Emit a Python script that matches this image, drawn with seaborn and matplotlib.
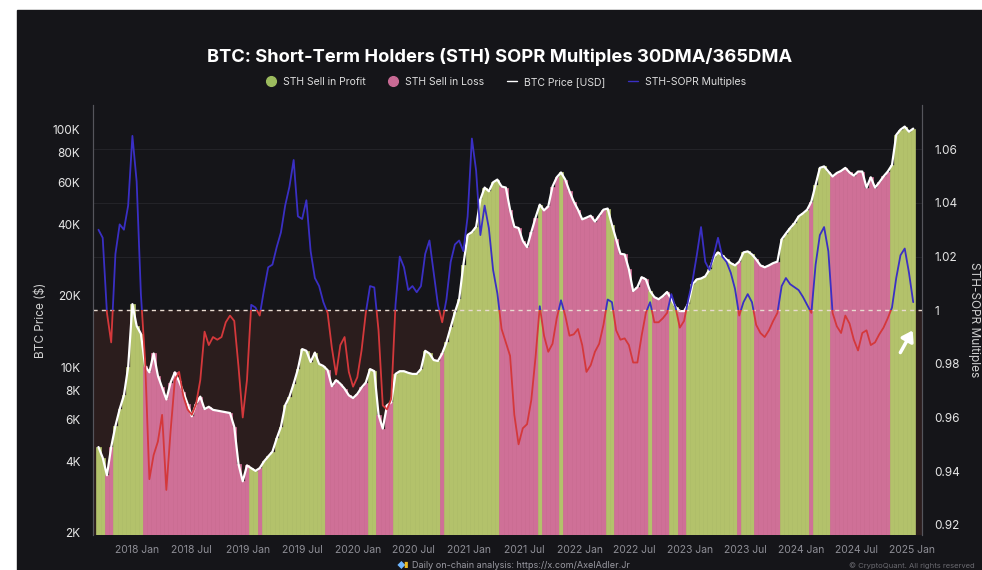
import numpy as np
import pandas as pd
import matplotlib
matplotlib.use("Agg")
import matplotlib.pyplot as plt
import matplotlib.transforms as mtransforms
from matplotlib.patches import Rectangle
from matplotlib.lines import Line2D
import seaborn as sns

# ---------------- data (bi-weekly) ----------------
start_date = "2017-08-27"
step = "14D"

btc_price = [
    4600, 4150, 3500, 4600, 5650, 6650, 7600, 10000, 18400, 14900,
    13800, 10100, 9500, 11400, 9200, 8200, 7300, 8600, 9500, 8700,
    7850, 7000, 6200, 7000, 7500, 6650, 6800, 6600, 6550, 6500,
    6450, 6400, 5600, 3900, 3300, 3850, 3750, 3650, 3750, 4000,
    4200, 4400, 5000, 5600, 6900, 7500, 8500, 9800, 11900, 11700,
    10500, 11500, 10300, 10100, 9700, 8300, 8800, 8500, 8100, 7600,
    7400, 7700, 8200, 8600, 9800, 9600, 6300, 5500, 6900, 7100,
    9350, 9600, 9600, 9450, 9350, 9350, 9800, 11700, 11400, 10700,
    10600, 11400, 12700, 14700, 17000, 19300, 27000, 36000, 37000, 39000,
    50800, 57000, 55000, 60000, 61600, 57600, 57000, 46000, 39000, 38500,
    34000, 32000, 37000, 42600, 48300, 45700, 47500, 57600, 63000, 66000,
    61600, 55000, 49800, 46000, 41900, 42600, 43400, 41000, 43400, 46000,
    46500, 39800, 34500, 30000, 29800, 25800, 20900, 21700, 23900, 23400,
    20900, 19700, 19300, 19900, 20700, 19300, 17900, 17200, 17200, 18500,
    22300, 23400, 23600, 24100, 25800, 29000, 30400, 29500, 28400, 27400,
    26800, 27800, 30400, 30700, 29800, 28400, 26800, 26300, 26800, 27400,
    27800, 34500, 36500, 38500, 40300, 43100, 44400, 46000, 49800, 58600,
    69000, 70000, 66600, 63500, 65700, 67000, 69000, 66000, 64000, 66600,
    66600, 57000, 63000, 57000, 60000, 63500, 66600, 71000, 95000, 100000,
    103000, 98000, 101000,
]

sopr_multiple = [
    1.030, 1.027, 0.999, 0.988, 1.021, 1.032, 1.030, 1.039, 1.065, 1.048,
    1.006, 0.981, 0.937, 0.946, 0.951, 0.961, 0.933, 0.955, 0.974, 0.977,
    0.968, 0.963, 0.961, 0.965, 0.974, 0.992, 0.987, 0.990, 0.989, 0.990,
    0.9955, 0.998, 0.996, 0.979, 0.960, 0.974, 1.002, 1.001, 0.998, 1.0075,
    1.016, 1.017, 1.0235, 1.029, 1.039, 1.046, 1.056, 1.035, 1.034, 1.041,
    1.022, 1.012, 1.009, 1.003, 0.999, 0.986, 0.976, 0.987, 0.990, 0.977,
    0.9715, 0.975, 0.985, 0.999, 1.009, 1.0085, 0.9925, 0.9645, 0.963, 0.967,
    1.002, 1.020, 1.016, 1.0075, 1.009, 1.0067, 1.009, 1.021, 1.026, 1.014,
    1.002, 0.9955, 1.004, 1.018, 1.0245, 1.026, 1.022, 1.035, 1.064, 1.052,
    1.028, 1.039, 1.0306, 1.015, 1.0063, 0.993, 0.988, 0.983, 0.961, 0.950,
    0.956, 0.9575, 0.9665, 0.9825, 1.0015, 0.9905, 0.9845, 0.9875, 0.997, 1.0037,
    0.998, 0.9905, 0.991, 0.993, 0.987, 0.977, 0.9795, 0.9845, 0.9875, 0.9945,
    1.004, 1.003, 0.9925, 0.989, 0.9895, 0.987, 0.9805, 0.9805, 0.9905, 0.999,
    1.003, 0.9955, 0.9955, 0.997, 0.999, 1.006, 1.001, 0.9935, 0.996, 1.004,
    1.011, 1.0205, 1.031, 1.018, 1.015, 1.0205, 1.027, 1.020, 1.018, 1.014,
    1.008, 0.998, 1.003, 1.006, 1.003, 0.9945, 0.9915, 0.990, 0.9925, 0.996,
    0.999, 1.009, 1.012, 1.0097, 1.0086, 1.0075, 1.005, 1.002, 0.999, 1.017,
    1.028, 1.031, 1.022, 0.999, 0.994, 0.9915, 0.998, 0.995, 0.989, 0.985,
    0.9915, 0.9925, 0.987, 0.988, 0.991, 0.9935, 0.997, 1.001, 1.012, 1.0205,
    1.023, 1.014, 1.003,
]

x_tick_dates = ["2018-01-01", "2018-07-01", "2019-01-01", "2019-07-01", "2020-01-01",
                "2020-07-01", "2021-01-01", "2021-07-01", "2022-01-01", "2022-07-01",
                "2023-01-01", "2023-07-01", "2024-01-01", "2024-07-01", "2025-01-01"]
x_tick_labels = ["2018 Jan", "2018 Jul", "2019 Jan", "2019 Jul", "2020 Jan",
                 "2020 Jul", "2021 Jan", "2021 Jul", "2022 Jan", "2022 Jul",
                 "2023 Jan", "2023 Jul", "2024 Jan", "2024 Jul", "2025 Jan"]
price_ticks = [2000, 4000, 6000, 8000, 10000, 20000, 40000, 60000, 80000, 100000]
price_tick_labels = ["2K", "4K", "6K", "8K", "10K", "20K", "40K", "60K", "80K", "100K"]
sopr_ticks = [0.92, 0.94, 0.96, 0.98, 1.0, 1.02, 1.04, 1.06]
sopr_tick_labels = ["0.92", "0.94", "0.96", "0.98", "1", "1.02", "1.04", "1.06"]

dates = pd.date_range(start_date, periods=len(btc_price), freq=step)
df = pd.DataFrame({"date": dates, "price": btc_price, "sopr": sopr_multiple})
df["state"] = np.where(df["sopr"] > 1, "STH Sell in Profit", "STH Sell in Loss")

# ---------------- style ----------------
BG = "#151519"
GREEN = "#b3c26b"
PINK = "#cf7097"
BLUE = "#3a2fc4"
RED = "#d4383b"
BROWN = "#2b1d1d"
TXT = "#e6e6e6"
GREY = "#8e8e96"

sns.set_style("dark", {"axes.facecolor": BG, "figure.facecolor": "white"})
plt.rcParams["font.family"] = ["Inter", "DejaVu Sans"]

fig = plt.figure(figsize=(9.82, 5.70), dpi=100)
fig.patches.append(Rectangle((17 / 982, 0), 1 - 17 / 982, 560 / 570,
                             transform=fig.transFigure, color=BG, zorder=-10))

ax = fig.add_axes([93 / 982, 35 / 570, (922 - 93) / 982, (535 - 105) / 570])
ax.set_facecolor(BG)
ax.set_yscale("log")
ax.set_ylim(1960, 127000)
ax.set_xlim(pd.Timestamp("2017-08-09"), pd.Timestamp("2025-02-03"))

ax2 = ax.twinx()
y2min, y2max = 0.9162, 1.0765
ax2.set_ylim(y2min, y2max)

# dark-brown region below SOPR = 1
frac = (1.0 - y2min) / (y2max - y2min)
ax.add_patch(Rectangle((0, 0), 1, frac, transform=ax.transAxes, color=BROWN,
                       zorder=0, linewidth=0))

# faint horizontal grid (behind the bars) at the SOPR ticks
grid_tr = mtransforms.blended_transform_factory(ax.transAxes, ax2.transData)
for t in sopr_ticks:
    if t > 1.0:
        ax.plot([0, 1], [t, t], transform=grid_tr, color="#232328", linewidth=0.8,
                zorder=0.5)

# profit / loss bars
bar_colors = [GREEN if s == "STH Sell in Profit" else PINK for s in df["state"]]
ax.bar(df["date"], df["price"], width=pd.Timedelta(days=14), color=bar_colors,
       align="center", edgecolor=bar_colors, linewidth=0.5, zorder=1)

# price line
sns.lineplot(data=df, x="date", y="price", ax=ax, color="white", linewidth=1.6,
             estimator=None, zorder=3, legend=False)

# SOPR multiple line, coloured above/below 1
ax2.axhline(1.0, color="#e8dad0", linewidth=1.0, linestyle=(0, (3, 3)), zorder=2)
blend = mtransforms.blended_transform_factory(ax2.transAxes, ax2.transData)
sns.lineplot(data=df, x="date", y="sopr", ax=ax2, color=BLUE, linewidth=1.3,
             estimator=None, legend=False)
blue_line = ax2.lines[-1]
blue_line.set_clip_path(Rectangle((0, 1.0), 1, 1, transform=blend))
sns.lineplot(data=df, x="date", y="sopr", ax=ax2, color=RED, linewidth=1.3,
             estimator=None, legend=False)
red_line = ax2.lines[-1]
red_line.set_clip_path(Rectangle((0, 0.5), 1, 0.5, transform=blend))

# axes cosmetics
ax.set_xticks(pd.to_datetime(x_tick_dates))
ax.set_xticklabels(x_tick_labels, color=GREY, fontsize=7.5)
ax.set_yticks(price_ticks)
ax.set_yticklabels(price_tick_labels, color=TXT, fontsize=8.5)
ax.yaxis.set_minor_locator(matplotlib.ticker.NullLocator())
ax.tick_params(axis="both", length=0)
ax.tick_params(axis="y", pad=9)
ax.tick_params(axis="x", pad=7)
ax.set_xlabel("")
ax.set_ylabel("BTC Price ($)", color="#d0d0d0", fontsize=8.5, labelpad=4)
ax.grid(False)

ax2.set_yticks(sopr_ticks)
ax2.set_yticklabels(sopr_tick_labels, color=TXT, fontsize=8.5)
ax2.tick_params(axis="y", length=0, pad=9)
ax2.set_ylabel("STH-SOPR Multiples", color="#d0d0d0", fontsize=8.5, rotation=-90,
               labelpad=14)
ax2.set_xlabel("")
ax2.grid(False)

for a in (ax, ax2):
    for side in ("top", "bottom"):
        a.spines[side].set_visible(False)
    a.spines["left"].set_color("#55555c")
    a.spines["right"].set_color("#55555c")

# title & legend
fig.text(0.509, 1 - 57 / 570, "BTC: Short-Term Holders (STH) SOPR Multiples 30DMA/365DMA",
         ha="center", va="center", color="white", fontsize=13.2, fontweight="bold")
handles = [
    Line2D([], [], marker="o", linestyle="", markersize=7, color="#9cbb5e"),
    Line2D([], [], marker="o", linestyle="", markersize=7, color="#c86a94"),
    Line2D([], [], color="white", linewidth=1),
    Line2D([], [], color=BLUE, linewidth=1),
]
labels = ["STH Sell in Profit", "STH Sell in Loss", "BTC Price [USD]", "STH-SOPR Multiples"]
fig.legend(handles, labels, loc="center", bbox_to_anchor=(0.515, 1 - 82 / 570), ncol=4,
           frameon=False, fontsize=7.5, labelcolor="#dddddd", handlelength=1.0,
           handletextpad=0.6, columnspacing=2.2)

# footer
fig.text(0.404, 5 / 570, "\u25C6", color="#6fb6ff", fontsize=6, ha="left", va="center")
fig.text(0.411, 5 / 570, "\u25AE", color="#e8b923", fontsize=6, ha="left", va="center")
fig.text(0.420, 5 / 570, "Daily on-chain analysis: https://x.com/AxelAdler.Jr",
         color="#9a9aa2", fontsize=6.5, ha="left", va="center")
fig.text(975 / 982, 4 / 570, "\u00A9 CryptoQuant. All rights reserved",
         color="#6a6a70", fontsize=5.5, ha="right", va="center")

# arrow
fig.add_artist(matplotlib.patches.FancyArrowPatch(
    (899, 570 - 355), (914, 570 - 328), transform=None,
    arrowstyle="-|>,head_length=6,head_width=4", color="white", linewidth=2.5,
    mutation_scale=1))

fig.savefig("out.png", dpi=100)
